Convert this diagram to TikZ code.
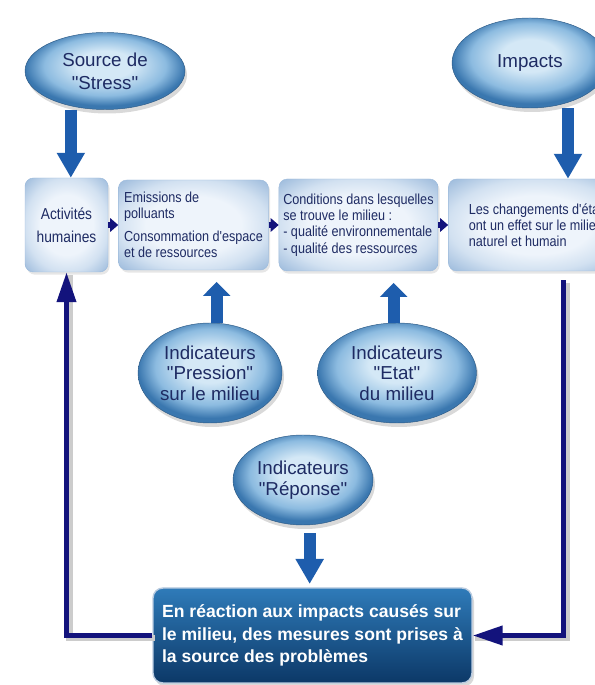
\documentclass[tikz,border=0pt]{standalone}
\usepackage{fontspec}
\setmainfont{Liberation Sans}[Ligatures=TeXOff]
\newfontfamily\etroite[FakeStretch=0.87,Ligatures=TeXOff]{Liberation Sans}
\usetikzlibrary{positioning,shapes.geometric,arrows.meta,shadows}
\definecolor{bulleclair}{HTML}{D4E8F6}
\definecolor{bullemoyen}{HTML}{8CBBE0}
\definecolor{bullefonce}{HTML}{3A77AF}
\definecolor{bullebord}{HTML}{2C5A86}
\definecolor{cadreclair}{HTML}{EEF4FB}
\definecolor{cadremoyen}{HTML}{D2E1F1}
\definecolor{cadrefonce}{HTML}{9DBBDC}
\definecolor{basclair}{HTML}{2F7BB9}
\definecolor{basfonce}{HTML}{0C3867}
\definecolor{basbord}{HTML}{B9CBE0}
\definecolor{texteclr}{HTML}{1E2B63}
\definecolor{flecheclr}{HTML}{1E5DAD}
\definecolor{boucleclr}{HTML}{13137C}
\pgfdeclareradialshading{bulleshade}{\pgfpoint{0bp}{5bp}}{color(0bp)=(bulleclair); color(9bp)=(bulleclair);
  color(19bp)=(bullemoyen); color(25bp)=(bullefonce); color(50bp)=(bullefonce)}
\pgfdeclareradialshading{cadreshade}{\pgfpoint{0bp}{0bp}}{color(0bp)=(cadreclair); color(16bp)=(cadreclair);
  color(25bp)=(cadremoyen); color(35bp)=(cadrefonce); color(50bp)=(cadrefonce)}
\tikzset{
  bulle/.style   = {ellipse, draw=bullebord, thin, shading=bulleshade, inner sep=0pt,
                    align=center, text=texteclr, font=\fontsize{16}{17.5}\selectfont,
                    drop shadow={opacity=0.3, shadow xshift=0.6mm, shadow yshift=-1.2mm}},
  cadre/.style   = {rectangle, rounded corners=2.5mm, draw=cadrefonce, shading=cadreshade,
                    inner xsep=1.2mm, align=left, text=texteclr, minimum height=27.6mm,
                    font=\etroite\fontsize{12.4}{13.8}\selectfont,
                    drop shadow={opacity=0.2, shadow xshift=0.5mm, shadow yshift=-0.8mm}},
  mesures/.style = {rectangle, rounded corners=3mm, draw=basbord, line width=1.2pt,
                    top color=basclair, bottom color=basfonce, text=white, align=left,
                    font=\bfseries\fontsize{15}{19}\selectfont,
                    drop shadow={opacity=0.3, shadow xshift=0.6mm, shadow yshift=-1mm}},
  grosse/.style  = {-{Triangle[width=8mm,length=7.5mm]}, line width=3.6mm, draw=flecheclr},
  courte/.style  = {-{Triangle[width=8mm,length=4.2mm]}},
  petite/.style  = {-{Triangle[width=4mm,length=2.4mm]}, line width=1.8mm, draw=boucleclr},
  boucle/.style  = {-{Triangle[width=5.6mm,length=9mm]}, line width=1.5mm, draw=boucleclr,
                    preaction={draw=black!20, -, line width=2mm,
                               transform canvas={xshift=0.8mm,yshift=-0.8mm}}},
}
\begin{document}
\begin{tikzpicture}[node distance=3mm and 3mm]
\useasboundingbox (0,0) rectangle (17.85,20.55);

%% =====================================================================
%% Sources
%% =====================================================================
\node[bulle, minimum width=48mm, minimum height=23.1mm,
      font=\fontsize{16}{19.5}\selectfont] (src) at (3.15,18.42)
  {Source de\\"Stress"};
\node[bulle, minimum width=46.8mm, minimum height=27mm] (imp) at (15.9,18.66)
  {Impacts};

%% =====================================================================
%% Chain of boxes
%% =====================================================================
\node[cadre, minimum width=24.9mm, minimum height=28.2mm, align=center,
      font=\etroite\fontsize{13.5}{19.5}\selectfont] (act) at (1.995,13.8)
  {Activités\\humaines};
\node[cadre, right=of act, minimum width=45mm, minimum height=27mm] (emis)
  {Emissions de\\polluants\\[2mm]Consommation d'espace\\et de ressources};
\node[cadre, right=of emis, minimum width=47.7mm] (cond)
  {Conditions dans lesquelles\\se trouve le milieu :\\- qualité environnementale\\- qualité des ressources};
\node[cadre, right=of cond, minimum width=52.5mm] (chg)
  {Les changements d'état\\ont un effet sur le milieu\\naturel et humain};

\draw[petite] (act)  -- (emis);
\draw[petite] (emis) -- (cond);
\draw[petite] (cond) -- (chg);

%% =====================================================================
%% Indicators
%% =====================================================================
\node[bulle, minimum width=43.2mm, minimum height=30mm] (pres) at (6.3,9.36)
  {Indicateurs\\"Pression"\\sur le milieu};
\node[bulle, minimum width=47.7mm, minimum height=30mm] (etat) at (11.91,9.36)
  {Indicateurs\\"Etat"\\du milieu};
\node[bulle, minimum width=42mm, minimum height=27mm] (rep) at (9.09,6.15)
  {Indicateurs\\"Réponse"};

%% --- response box ------------------------------------------------------
\node[mesures, minimum width=95.7mm, minimum height=28.5mm] (bas) at (9.375,1.485)
  {En réaction aux impacts causés sur\\le milieu, des mesures sont prises à\\la source des problèmes};

%% =====================================================================
%% Arrows
%% =====================================================================
\draw[grosse] ([xshift=1.3mm]act.north |- src.south) -- ([xshift=1.3mm]act.north);
\draw[grosse] ([xshift=11.4mm]imp.south) -- ([xshift=11.4mm]imp.south |- chg.north);
\draw[grosse, courte, shorten >=3.5mm] ([xshift=2mm]pres.north)
  -- ([xshift=2mm]pres.north |- emis.south);
\draw[grosse, courte, shorten >=3.5mm] ([xshift=-1mm]etat.north)
  -- ([xshift=-1mm]etat.north |- cond.south);
\draw[grosse, shorten <=2.4mm, shorten >=1mm] ([xshift=2mm]rep.south)
  -- ([xshift=2mm]rep.south |- bas.north);

%% --- feedback loop -----------------------------------------------------
\draw[boucle] (bas.west) -| (act.south);
\draw[boucle, shorten <=2.7mm] ([xshift=8.4mm]chg.south) |- (bas.east);

\end{tikzpicture}
\end{document}
